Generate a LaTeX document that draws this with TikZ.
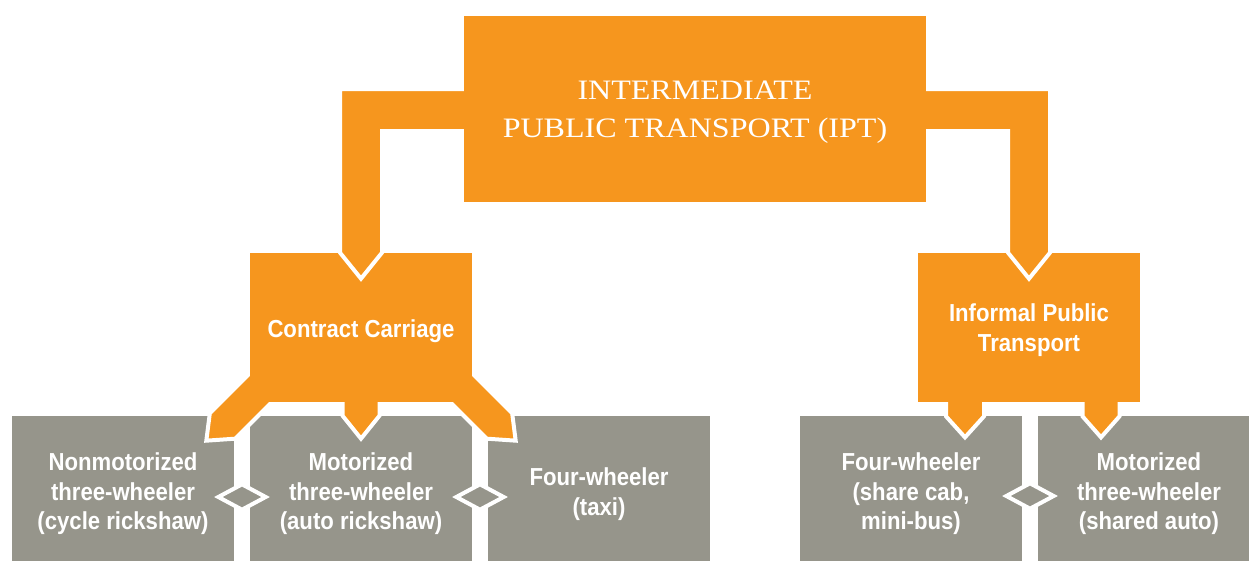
\documentclass[tikz,border=0pt]{standalone}
\usepackage{fontspec}
\newfontfamily\boxfont[FakeStretch=0.9]{Liberation Sans}
\newfontfamily\iptfont[FakeStretch=1.14]{Liberation Serif}
\usetikzlibrary{calc,shapes.geometric}
\definecolor{iptorange}{RGB}{246,150,30}
\definecolor{iptgrey}{RGB}{150,149,139}
\pgfdeclarelayer{bottom}
\pgfdeclarelayer{middle}
\pgfdeclarelayer{top}
\pgfsetlayers{bottom,middle,main,top}
\begin{document}
\begin{tikzpicture}[x=0.02cm,y=-0.02cm,
    head/.style={fill=iptorange,text=white,inner sep=0pt,align=center,
      minimum width=4.44cm,minimum height=2.98cm,text depth=0pt,
      font=\boxfont\bfseries\fontsize{14}{17}\selectfont},
    leaf/.style={head,fill=iptgrey,minimum height=3.12cm,text depth=,
      font=\boxfont\bfseries\fontsize{14}{16.8}\selectfont},
    joint/.style={diamond,fill=iptgrey,draw=white,line width=0.08cm,
      inner sep=0pt,minimum width=0.98cm,minimum height=0.54cm},
    arm/.style={fill=iptorange,draw=white,line width=0.08cm}]
  \useasboundingbox (0,0) rectangle (1249,561);
  \begin{pgfonlayer}{top}
    \node[head,minimum width=9.24cm,minimum height=3.74cm,
      font=\iptfont\fontsize{16}{21.6}\selectfont] (ipt) at (695,109)
      {INTERMEDIATE\\PUBLIC TRANSPORT (IPT)};
  \end{pgfonlayer}
  \node[head,text height=11pt] (cc) at (361,327.5) {Contract Carriage};
  \node[head] (ipub) at (1029,327.5) {Informal Public\\Transport};
  \begin{pgfonlayer}{bottom}
    \node[leaf] (nmt) at (123,494) {Nonmotorized\\three-wheeler\\(cycle rickshaw)};
    \node[leaf] (mt) at (361,494) {Motorized\\three-wheeler\\(auto rickshaw)};
    \node[leaf] (taxi) at (599,494) {Four-wheeler\\(taxi)};
    \node[leaf] (cab) at (911,494) {Four-wheeler\\(share cab,\\mini-bus)};
    \node[leaf] (auto) at (1149,494) {Motorized\\three-wheeler\\(shared auto)};
    \node[joint] (j1) at ($(nmt.east)!0.5!(mt.west)+(0,3)$) {};
    \node[joint] (j2) at ($(mt.east)!0.5!(taxi.west)+(0,3)$) {};
    \node[joint] (j3) at ($(cab.east)!0.5!(auto.west)+(0,2)$) {};
  \end{pgfonlayer}
  % arms from the top box
  \draw[arm] ($(ipt.west)+(30,-20)$) -- ($(ipt.west -| cc.north)+(-21,-20)$)
    -- ($(cc.north)+(-21,0)$) -- ($(cc.north)+(0,26)$) -- ($(cc.north)+(21,0)$)
    -- ($(ipt.west -| cc.north)+(21,22)$) -- ($(ipt.west)+(30,22)$) -- cycle;
  \draw[arm] ($(ipt.east)+(-30,-20)$) -- ($(ipt.east -| ipub.north)+(21,-20)$)
    -- ($(ipub.north)+(21,0)$) -- ($(ipub.north)+(0,26)$) -- ($(ipub.north)+(-21,0)$)
    -- ($(ipt.east -| ipub.north)+(-21,22)$) -- ($(ipt.east)+(-30,22)$) -- cycle;
  \begin{pgfonlayer}{middle}
    \draw[arm] ($(cc.south west)+(15,-44)$) -- ($(nmt.north east)+(-24.5,-2.5)$)
      -- ($(nmt.north east)+(-28,25)$) -- ($(nmt.north east)+(1,23)$)
      -- ($(cc.south west)+(50,-28)$) -- cycle;
    \draw[arm] ($(cc.south east)+(-15,-44)$) -- ($(taxi.north west)+(24.5,-2.5)$)
      -- ($(taxi.north west)+(28,25)$) -- ($(taxi.north west)+(-1,23)$)
      -- ($(cc.south east)+(-50,-28)$) -- cycle;
    \draw[arm] ($(cc.south)+(-18.5,-20)$) -- ($(mt.north)+(-18.5,0)$)
      -- ($(mt.north)+(0,23)$) -- ($(mt.north)+(18.5,0)$)
      -- ($(cc.south)+(18.5,-20)$) -- cycle;
    \draw[arm] ($(ipub.south)+(-83,-20)$) -- ($(ipub.south -| cab.north)+(35,14)$)
      -- ($(ipub.south -| cab.north)+(54,35)$) -- ($(ipub.south -| cab.north)+(73,14)$)
      -- ($(ipub.south)+(-45,-20)$) -- cycle;
    \draw[arm] ($(ipub.south)+(54,-20)$) -- ($(ipub.south -| auto.north)+(-66.5,14)$)
      -- ($(ipub.south -| auto.north)+(-48,35)$) -- ($(ipub.south -| auto.north)+(-29.5,14)$)
      -- ($(ipub.south)+(91,-20)$) -- cycle;
  \end{pgfonlayer}
\end{tikzpicture}
\end{document}
